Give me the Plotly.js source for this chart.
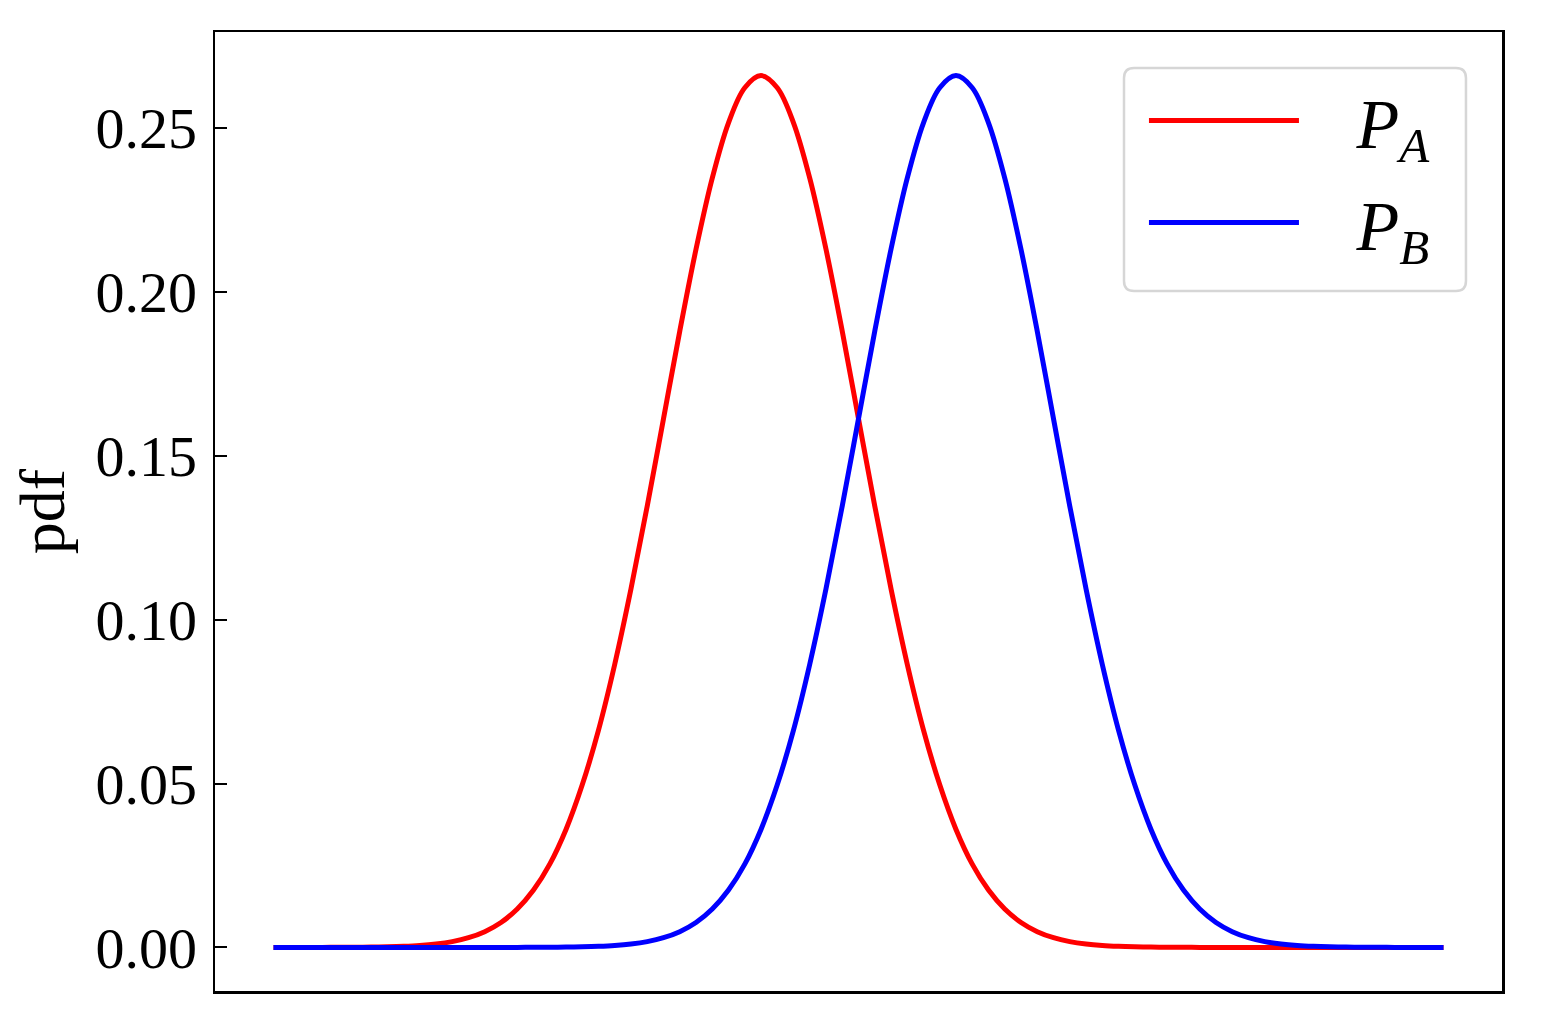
<!DOCTYPE html>
<html>
<head>
<meta charset="utf-8">
<script src="https://cdn.plot.ly/plotly-3.0.1.min.js"></script>
<style>
  html, body { margin: 0; padding: 0; background: #fff; }
  #plot { width: 1542px; height: 1020px; }
</style>
</head>
<body>
<div id="plot"></div>
<script>
// x grid of the two curves (step 0.25)
var xs = [-9, -8.75, -8.5, -8.25, -8, -7.75, -7.5, -7.25, -7, -6.75, -6.5, -6.25, -6, -5.75,
  -5.5, -5.25, -5, -4.75, -4.5, -4.25, -4, -3.75, -3.5, -3.25, -3, -2.75, -2.5, -2.25, -2,
  -1.75, -1.5, -1.25, -1, -0.75, -0.5, -0.25, 0, 0.25, 0.5, 0.75, 1, 1.25, 1.5, 1.75, 2,
  2.25, 2.5, 2.75, 3, 3.25, 3.5, 3.75, 4, 4.25, 4.5, 4.75, 5, 5.25, 5.5, 5.75, 6, 6.25,
  6.5, 6.75, 7, 7.25, 7.5, 7.75, 8, 8.25, 8.5, 8.75, 9];

// P_A, peak on the left
var pA = [0, 0, 0.00001, 0.00001, 0.00002, 0.00005, 0.00009, 0.00017, 0.00032, 0.00058,
  0.00103, 0.00177, 0.00296, 0.0048, 0.0076, 0.0117, 0.0175, 0.0254, 0.036, 0.0496,
  0.0663, 0.0864, 0.1094, 0.1347, 0.1613, 0.188, 0.213, 0.2347, 0.2516, 0.2623, 0.266,
  0.2623, 0.2516, 0.2347, 0.213, 0.188, 0.1613, 0.1347, 0.1094, 0.0864, 0.0663, 0.0496,
  0.036, 0.0254, 0.0175, 0.0117, 0.0076, 0.0048, 0.00296, 0.00177, 0.00103, 0.00058,
  0.00032, 0.00017, 0.00009, 0.00005, 0.00002, 0.00001, 0.00001, 0, 0, 0, 0, 0, 0, 0,
  0, 0, 0, 0, 0, 0, 0];

// P_B, peak on the right
var pB = [0, 0, 0, 0, 0, 0, 0, 0, 0, 0, 0, 0, 0, 0, 0.00001, 0.00001, 0.00002, 0.00005,
  0.00009, 0.00017, 0.00032, 0.00058, 0.00103, 0.00177, 0.00296, 0.0048, 0.0076, 0.0117,
  0.0175, 0.0254, 0.036, 0.0496, 0.0663, 0.0864, 0.1094, 0.1347, 0.1613, 0.188, 0.213,
  0.2347, 0.2516, 0.2623, 0.266, 0.2623, 0.2516, 0.2347, 0.213, 0.188, 0.1613, 0.1347,
  0.1094, 0.0864, 0.0663, 0.0496, 0.036, 0.0254, 0.0175, 0.0117, 0.0076, 0.0048, 0.00296,
  0.00177, 0.00103, 0.00058, 0.00032, 0.00017, 0.00009, 0.00005, 0.00002, 0.00001,
  0.00001, 0, 0];

var yTicks = [0, 0.05, 0.10, 0.15, 0.20, 0.25];
var yTickText = ["0.00", "0.05", "0.10", "0.15", "0.20", "0.25"];

var serif = "Liberation Serif, Times New Roman, serif";
var pad = "&nbsp;&nbsp;&nbsp;";

var data = [
  {
    x: xs, y: pA, type: "scatter", mode: "lines", legendgroup: "a",
    name: pad + "<i>P</i><sub><i>A</i></sub>",
    line: { color: "#ff0000", width: 5, shape: "spline", smoothing: 1 },
  },
  {
    x: xs, y: pB, type: "scatter", mode: "lines", legendgroup: "b",
    name: pad + "<i>P</i><sub><i>B</i></sub>",
    line: { color: "#0000ff", width: 5, shape: "spline", smoothing: 1 },
  },
];

// rounded legend frame (paper coords)
var bx0 = 0.7063, bx1 = 0.9720, by0 = 0.7299, by1 = 0.9625, rx = 0.0078, ry = 0.0104;
var frame = "M " + (bx0 + rx) + "," + by1 + " L " + (bx1 - rx) + "," + by1 +
  " Q " + bx1 + "," + by1 + " " + bx1 + "," + (by1 - ry) +
  " L " + bx1 + "," + (by0 + ry) + " Q " + bx1 + "," + by0 + " " + (bx1 - rx) + "," + by0 +
  " L " + (bx0 + rx) + "," + by0 + " Q " + bx0 + "," + by0 + " " + bx0 + "," + (by0 + ry) +
  " L " + bx0 + "," + (by1 - ry) + " Q " + bx0 + "," + by1 + " " + (bx0 + rx) + "," + by1 + " Z";

var layout = {
  width: 1542,
  height: 1020,
  margin: { l: 215, r: 40, t: 32, b: 29 },
  paper_bgcolor: "#fff",
  plot_bgcolor: "#fff",
  font: { family: serif, color: "#000" },
  showlegend: true,
  legend: {
    x: 0.7218, y: 0.962, xanchor: "left", yanchor: "top",
    bgcolor: "rgba(0,0,0,0)",
    borderwidth: 0,
    font: { family: serif, size: 70, color: "#000" },
    itemwidth: 150,
    traceorder: "grouped",
    tracegroupgap: 8,
  },
  shapes: [
    {
      type: "path", xref: "paper", yref: "paper", path: frame,
      line: { color: "#d6d6d6", width: 2.5 }, fillcolor: "rgba(255,255,255,0.8)",
      layer: "below",
    },
  ],
  xaxis: {
    range: [-9.9, 9.9],
    showgrid: false, zeroline: false,
    showticklabels: false, ticks: "",
    showline: true, linecolor: "#000", linewidth: 2.5, mirror: true,
  },
  yaxis: {
    range: [-0.0133, 0.2793],
    showgrid: false, zeroline: false,
    tickmode: "array", tickvals: yTicks, ticktext: yTickText,
    ticks: "inside", ticklen: 12, tickwidth: 2, tickcolor: "#000",
    ticklabelstandoff: 4,
    tickfont: { family: serif, size: 58, color: "#000" },
    showline: true, linecolor: "#000", linewidth: 2.5, mirror: true,
    title: { text: "pdf", font: { family: serif, size: 64, color: "#000" }, standoff: 10 },
  },
};

Plotly.newPlot("plot", data, layout, { displayModeBar: false, staticPlot: true });
</script>
</body>
</html>
